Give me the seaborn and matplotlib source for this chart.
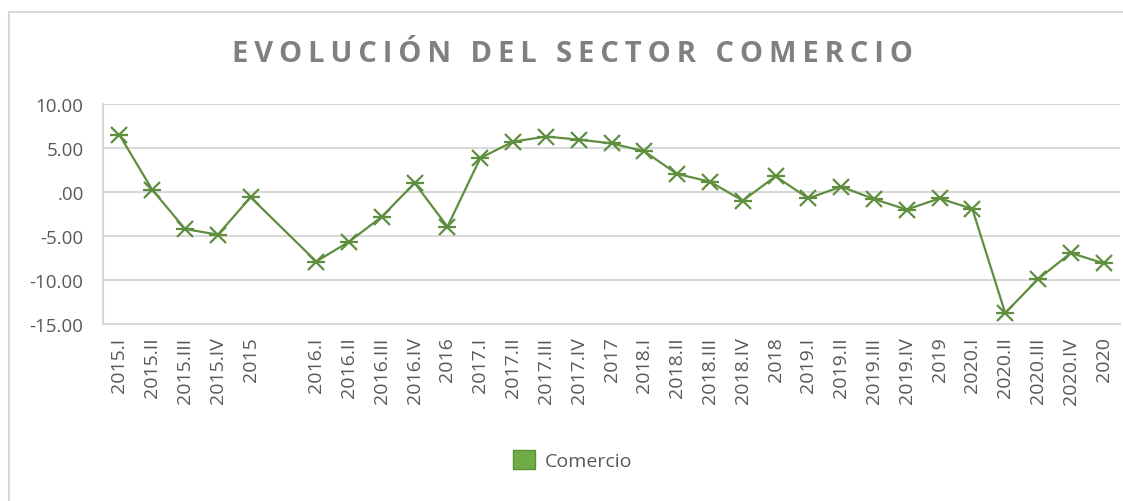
import numpy as np
import pandas as pd
import matplotlib
matplotlib.use("Agg")
import matplotlib.pyplot as plt
from matplotlib.patches import Patch, Rectangle
import seaborn as sns

# quarter / year labels (blank slot between 2015 and 2016.I as in the original sheet)
periodos = ["2015.I", "2015.II", "2015.III", "2015.IV", "2015", "",
            "2016.I", "2016.II", "2016.III", "2016.IV", "2016",
            "2017.I", "2017.II", "2017.III", "2017.IV", "2017",
            "2018.I", "2018.II", "2018.III", "2018.IV", "2018",
            "2019.I", "2019.II", "2019.III", "2019.IV", "2019",
            "2020.I", "2020.II", "2020.III", "2020.IV", "2020"]
comercio = [6.5, 0.26, -4.2, -4.85, -0.6, np.nan,
            -7.9, -5.65, -2.8, 1.02, -3.94,
            3.86, 5.72, 6.3, 5.95, 5.53,
            4.62, 2.05, 1.17, -0.98, 1.78,
            -0.72, 0.61, -0.8, -2.0, -0.72,
            -1.93, -13.75, -9.9, -6.93, -8.1]
yticks = [10, 5, 0, -5, -10, -15]
ytick_labels = ["10.00", "5.00", ".00", "-5.00", "-10.00", "-15.00"]

df = pd.DataFrame({"pos": np.arange(len(periodos)), "periodo": periodos, "valor": comercio})
df_line = df.dropna()

sns.set_theme(style="white")
plt.rcParams["font.family"] = ["Open Sans", "DejaVu Sans"]

gris = "#595959"
verde = "#5E8E3E"

fig = plt.figure(figsize=(11.23, 5.02), dpi=100)
ax = fig.add_axes([103 / 1123, 1 - 325 / 502, (1120 - 103) / 1123, 220 / 502])

# outer chart border
fig.patches.append(Rectangle((9 / 1123, -0.1), 1.2, 1 - 12.5 / 502 + 0.1,
                             transform=fig.transFigure, fill=False,
                             edgecolor="#D9D9D9", linewidth=1.5))

sns.lineplot(data=df_line, x="pos", y="valor", ax=ax, color=verde,
             linewidth=1.6, marker="x", markersize=11, markeredgewidth=1.6,
             markeredgecolor=verde)
ax.plot(df_line.pos, df_line.valor, linestyle="none", marker="_",
        markersize=13, markeredgewidth=1.6, color=verde)

ax.set_xlim(-0.5, len(periodos) - 0.5)
ax.set_ylim(-15, 10)
ax.set_yticks(yticks)
ax.set_yticklabels(ytick_labels, color=gris, fontsize=13.5)
ax.set_xticks(df.pos)
ax.set_xticklabels(periodos, rotation=90, color=gris, fontsize=14)
ax.tick_params(axis="both", length=0)
ax.tick_params(axis="x", pad=9)
ax.tick_params(axis="y", pad=14)
ax.set_xlabel("")
ax.set_ylabel("")

ax.grid(axis="y", color="#D9D9D9", linewidth=1.5)
ax.set_axisbelow(True)
for s in ["top", "right"]:
    ax.spines[s].set_visible(False)
for s in ["left", "bottom"]:
    ax.spines[s].set_color("#D9D9D9")
    ax.spines[s].set_linewidth(1.5)

titulo = "EVOLUCIÓN DEL SECTOR COMERCIO"
titulo_esp = "\u2009".join(titulo)
fig.text(0.51, 1 - 55 / 502, titulo_esp, ha="center", va="center",
         fontsize=21, color="#808080", fontweight="bold",
         family=["Open Sans", "DejaVu Sans"])

fig.legend(handles=[Patch(facecolor="#70AD47", edgecolor="#5B9035", label="Comercio")],
           loc="center", bbox_to_anchor=(0.51, 1 - 461 / 502), frameon=False,
           fontsize=14, labelcolor=gris, handlelength=1.1, handleheight=1.1,
           handletextpad=0.5)

fig.savefig("out.png", dpi=100)
